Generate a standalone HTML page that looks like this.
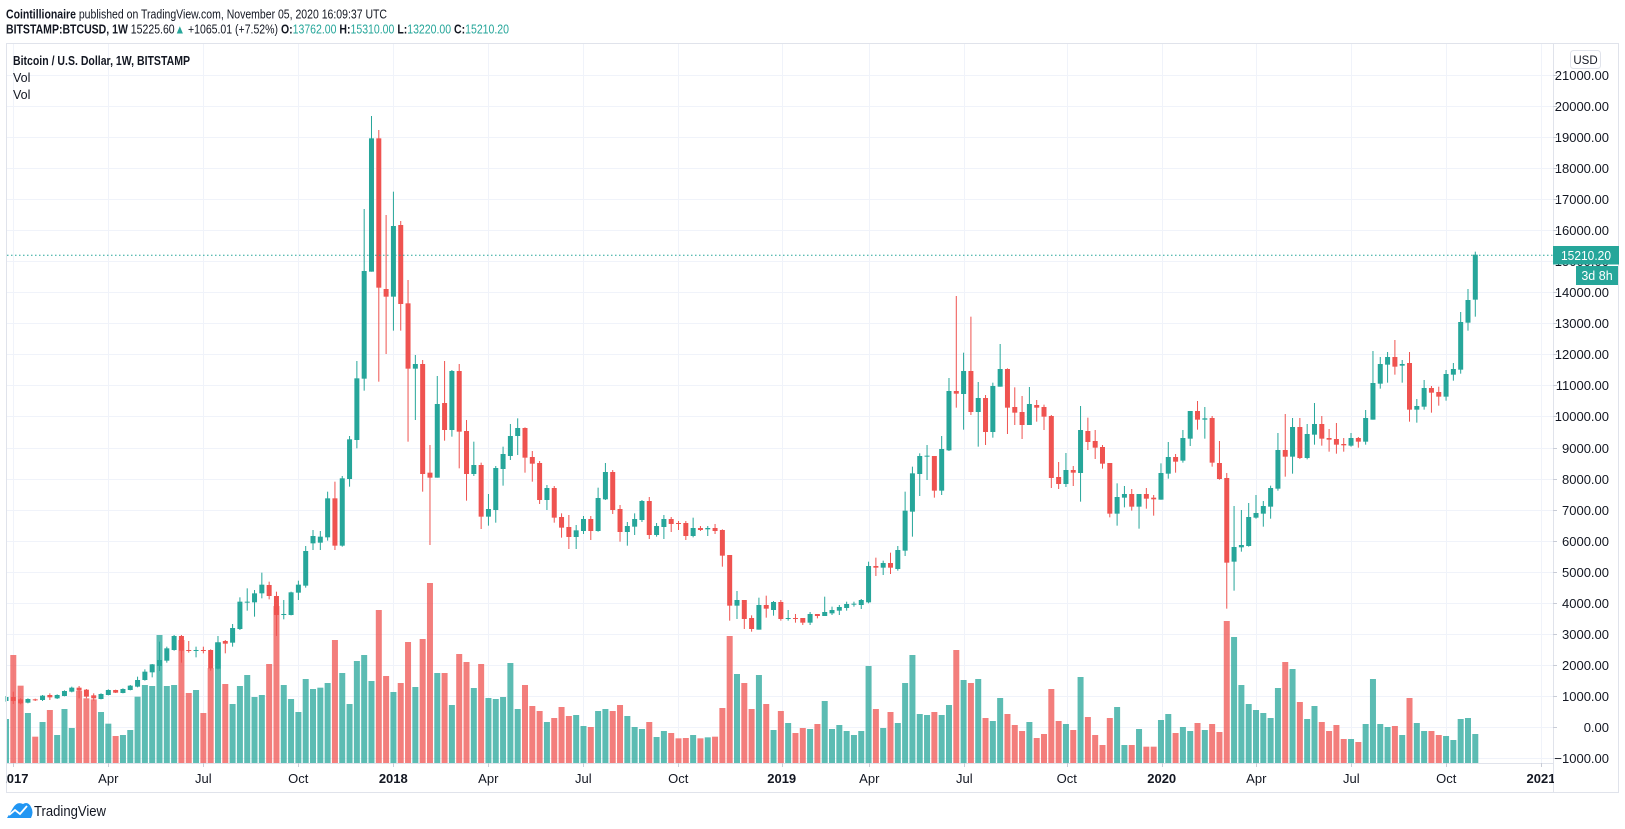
<!DOCTYPE html>
<html><head><meta charset="utf-8"><style>
html,body{margin:0;padding:0;background:#fff;}
svg{display:block;font-family:"Liberation Sans",sans-serif;}
</style></head><body>
<svg id="s" width="1625" height="829" viewBox="0 0 1625 829" xmlns="http://www.w3.org/2000/svg">
<rect width="1625" height="829" fill="#fff"/>
<g id="grid" stroke="#f0f3fa" stroke-width="1"></g>
<g id="vol"></g>
<g id="cdl"></g>
<line x1="7" y1="255.3" x2="1553" y2="255.3" stroke="#26a69a" stroke-width="1" stroke-dasharray="1.5,2.5"/>
<!-- frame -->
<g fill="none" stroke="#e0e3eb" stroke-width="1">
<rect x="6.5" y="43.5" width="1612" height="749"/>
<line x1="1553.5" y1="43.5" x2="1553.5" y2="792.5"/>
<line x1="6.5" y1="763.5" x2="1553.5" y2="763.5"/>
</g>
<g id="ticks" stroke="#c8ccd6" stroke-width="1"></g>
<!-- header -->
<text x="6" y="18.5" font-size="12.5" fill="#131722" textLength="381" lengthAdjust="spacingAndGlyphs"><tspan font-weight="bold">Cointillionaire</tspan> published on TradingView.com, November 05, 2020 16:09:37 UTC</text>
<text x="6" y="33.5" font-size="12.5" fill="#131722" textLength="503" lengthAdjust="spacingAndGlyphs"><tspan font-weight="bold">BITSTAMP:BTCUSD, 1W</tspan>  15225.60<tspan fill="#26a69a">▲</tspan> +1065.01 (+7.52%) <tspan font-weight="bold">O:</tspan><tspan fill="#26a69a">13762.00</tspan> <tspan font-weight="bold">H:</tspan><tspan fill="#26a69a">15310.00</tspan> <tspan font-weight="bold">L:</tspan><tspan fill="#26a69a">13220.00</tspan> <tspan font-weight="bold">C:</tspan><tspan fill="#26a69a">15210.20</tspan></text>
<text x="13" y="65" font-size="12.5" font-weight="bold" fill="#131722" textLength="177" lengthAdjust="spacingAndGlyphs">Bitcoin / U.S. Dollar, 1W, BITSTAMP</text>
<text x="13" y="82" font-size="12.5" fill="#131722">Vol</text>
<text x="13" y="99" font-size="12.5" fill="#131722">Vol</text>
<!-- price axis -->
<rect x="1570.5" y="50.5" width="30" height="18" rx="3" fill="#fff" stroke="#e0e3eb"/>
<text x="1585.5" y="64" font-size="11.5" fill="#131722" text-anchor="middle">USD</text>
<g id="plab" font-size="13" fill="#131722"></g>
<rect x="1553" y="246" width="66" height="18.5" fill="#26a69a"/>
<text x="1586" y="260" font-size="13" fill="#fff" text-anchor="middle" textLength="50" lengthAdjust="spacingAndGlyphs">15210.20</text>
<rect x="1576" y="266" width="42" height="19" fill="#26a69a"/>
<text x="1597" y="280" font-size="12.5" fill="#fff" text-anchor="middle">3d 8h</text>
<!-- time axis -->
<g font-size="13" fill="#131722" text-anchor="middle">
<text x="14" y="783" font-weight="bold">2017</text>
<text x="108.3" y="783">Apr</text><text x="203.3" y="783">Jul</text><text x="298.3" y="783">Oct</text>
<text x="393.3" y="783" font-weight="bold">2018</text>
<text x="488.3" y="783">Apr</text><text x="583.3" y="783">Jul</text><text x="678.3" y="783">Oct</text>
<text x="781.7" y="783" font-weight="bold">2019</text>
<text x="869.3" y="783">Apr</text><text x="964.3" y="783">Jul</text><text x="1066.7" y="783">Oct</text>
<text x="1161.7" y="783" font-weight="bold">2020</text>
<text x="1256.3" y="783">Apr</text><text x="1351.3" y="783">Jul</text><text x="1446.3" y="783">Oct</text>
<text x="1541" y="783" font-weight="bold">2021</text>
</g>
<rect x="0" y="764" width="6" height="28" fill="#fff"/>
<rect x="1554" y="764" width="64" height="28" fill="#fff"/>
<!-- logo -->
<path d="M7 818 L13 808 Q17 801 23 804 Q28 801 31 807 Q34 812 31 818 Z" fill="#2196f3"/>
<path d="M9 815 L15 810 L20 814 L27 806" fill="none" stroke="#fff" stroke-width="1.8"/>
<text x="34" y="816" font-size="14.5" fill="#131722" textLength="72" lengthAdjust="spacingAndGlyphs">TradingView</text>
</svg>
<script>
(function(){
var NS="http://www.w3.org/2000/svg";
function el(p,t,a){var e=document.createElementNS(NS,t);for(var k in a)e.setAttribute(k,a[k]);p.appendChild(e);return e;}
var grid=document.getElementById('grid'),vol=document.getElementById('vol'),cdl=document.getElementById('cdl'),plab=document.getElementById('plab'),ticks=document.getElementById('ticks');
function py(p){return 726.8-p*0.03103;}
for(var p=21000;p>=-1000;p-=1000){var y=Math.round(py(p))+0.5;
 el(grid,'line',{x1:7,x2:1553,y1:y,y2:y});
 el(ticks,'line',{x1:1553,x2:1557,y1:y,y2:y});
 var t=el(plab,'text',{x:1609,y:y+4.5,'text-anchor':'end'});t.textContent=(p<0?'\u2212':'')+Math.abs(p)+'.00';}
[13.3,108.3,203.3,298.3,393.3,488.3,583.3,678.3,781.7,869.3,964.3,1066.7,1161.7,1256.3,1351.3,1446.3,1541].forEach(function(x){x=Math.round(x)+0.5;
 el(grid,'line',{x1:x,x2:x,y1:44,y2:763});el(ticks,'line',{x1:x,x2:x,y1:763,y2:767});});
function X(i){return 13.3+7.31*i;}
var C={};
function seg(off,start,arr){arr.forEach(function(d,k){C[start+k]=d.map(function(v){return off+v/3;});});}
seg(540,-1,[[483,468,485,471],[471,455,492,483],[478,475,493,490],[488,475,490,477],[478,476,483,481],[480,465,483,467],[465,460,480,472],[475,463,477,465],[468,451,469,453],[455,440,457,443],[443,438,475,452],[449,447,475,470],[466,460,482,475],[477,460,478,462],[465,448,466,450],[450,449,459,458],[459,445,460,447],[450,435,451,437],[440,410,442,420],[420,388,422,395],[397,372,412,373],[378,305,393,360],[362,320,368,325],[330,285,332,288],[288,285,368,332],[330,303,338,333],[332,320,352,330],[330,320,340,333],[330,328,392,385],[386,288,388,307],[303,300,340,311],[308,252,320,264],[267,172,270,185],[188,145,212,185],[187,150,230,160],[160,98,175,134],[135,125,178,168],[168,155,288,225],[225,180,238,222],[225,155,226,157],[158,122,180,134],[137,18,143,33]]);
seg(100,41,[[1330,1290,1350,1308],[1328,1293,1350,1310],[1312,1175,1322,1195],[1195,1145,1350,1337],[1337,1128,1340,1135],[1137,1008,1160,1018],[1020,783,1045,835],[836,327,872,513],[515,48,515,115],[115,90,845,563],[567,345,762,590],[590,275,692,378],[375,363,692,612],[610,540,1025,806],[806,765,960,792],[792,780,1175,1122],[1118,1035,1335,1133],[1133,828,1133,912],[909,783,1022,990],[990,810,1010,813],[813,792,1105,995],[993,960,1202,1122],[1122,1025,1128,1095],[1095,1088,1287,1250],[1250,1182,1277,1227],[1230,1098,1268,1104],[1107,1040,1157,1062],[1068,972,1080,1008],[1008,955,1065,984],[984,982,1118,1073]]);
seg(380,71,[[231,213,305,251],[249,243,372,360],[360,315,390,324],[324,318,428,413],[411,400,473,443],[441,405,507,471],[471,435,507,451],[453,408,462,417],[417,408,480,453],[453,323,455,354],[358,249,360,276],[276,270,402,390],[387,375,485,456],[456,426,497,438],[440,400,465,417],[420,360,426,363],[363,351,477,465],[465,429,470,438],[441,405,477,417],[417,411,456,432],[429,423,450,431],[429,423,480,468],[468,413,472,444],[444,438,453,450],[448,438,468,444],[444,432,462,453]]);
seg(300,97,[[690,688,800,767],[765,765,962,917],[917,873,957,900],[900,900,987,957],[954,946,995,987],[989,893,989,915],[915,887,953,926],[930,903,947,906],[906,900,962,957],[956,930,962,954],[954,942,968,956],[954,954,975,968],[968,936,975,942],[942,942,955,948],[948,890,948,936],[940,920,945,930],[932,915,945,921],[924,905,932,912],[913,905,920,911],[915,897,927,900],[907,785,910,798],[798,773,828,803],[803,782,825,789],[789,758,822,803],[807,738,812,750],[752,575,768,632],[635,500,710,520],[522,460,588,468],[469,435,540,467],[468,468,593,572],[572,408,585,447],[451,234,453,273],[273,-12,323,281],[282,158,389,213],[213,50,345,336],[336,246,440,294],[294,285,435,396],[396,248,413,258],[260,132,260,207],[207,205,402,323],[321,262,375,338],[336,288,417,375],[375,261,375,312],[315,300,365,323],[321,314,390,350],[348,345,564,534],[531,486,567,552],[552,459,561,510],[510,498,558,518],[519,318,605,390],[393,353,450,426],[423,390,477,443]]);
seg(230,149,[[651,645,716,701],[699,699,862,851],[851,760,887,801],[803,768,832,792],[792,777,842,830],[830,792,896,792],[792,774,836,806],[803,795,857,808],[809,700,809,729],[731,636,746,681],[681,672,728,695],[692,600,698,624],[626,543,648,543],[543,513,599,569],[569,531,626,565],[564,558,710,698],[699,633,749,747],[744,729,1136,998],[995,828,1082,951],[952,840,965,945],[948,819,950,861],[863,795,866,849],[851,813,890,828],[830,767,866,774],[776,609,782,660],[660,552,740,680],[680,564,731,591],[591,564,687,684],[684,582,688,612],[614,519,644,582],[582,558,647,626],[624,597,665,629],[627,579,671,644],[642,624,665,646],[647,609,650,624],[624,621,653,635],[635,540,644,564],[569,363,569,459],[461,381,476,402],[404,366,458,381],[381,330,434,410],[407,390,458,402],[399,366,575,539],[539,507,578,528],[530,450,539,474],[474,468,548,488],[486,470,527,500],[500,420,512,432],[434,399,452,417],[419,246,431,276],[278,177,302,210],[209,65,260,74]]);
var V={};
function vseg(off,start,arr){arr.forEach(function(v,k){V[start+k]=off+v/3;});}
vseg(540,-1,[537,345,437,519,590,546,510,585,507,564,453,475,478,516,551,588,585,570,470,435,438,285,438,435,300,459,450,519,384,307,432,492,438,405,471,465,372,198,435,477,516,417,447,443,429,300,399,492,363]);
vseg(380,48,[825,903,690,888,936,909,786,921,777,609,879,879,975,822,846,924,852,954,957,951,849,987,915,978,993,1026,1014,981,1008,1005,1038,1041,993,987,993,975,1008,1041,1047,1026,1071,1053,1059,1075,1074,1065,1075,1072,1070]);
vseg(300,97,[1224,1008,1122,1149,1227,1125,1212,1290,1233,1269,1299,1284,1287,1272,1203,1287,1275,1293,1305,1293,1098,1227,1284,1236,1269,1149,1065,1242,1245,1236,1245,1215,1050,1140,1149,1137,1254,1263,1194,1242,1275,1293,1266,1314,1302,1167,1263,1272,1290,1131,1251,1305]);
vseg(230,149,[1545,1464,1431,1545,1545,1497,1550,1550,1470,1452,1509,1491,1503,1479,1500,1482,1506,1173,1221,1365,1422,1440,1449,1464,1374,1296,1317,1416,1467,1428,1476,1503,1485,1527,1527,1536,1482,1347,1482,1491,1488,1515,1404,1479,1503,1503,1515,1518,1530,1467,1464,1512]);
for(var i=-1;i<=200;i++){
 var d=C[i];if(!d)continue;var x=X(i);
 var up=d[3]<=d[0];var col=up?'#26a69a':'#ef5350';
 if(V[i]!==undefined){var vt=V[i];var x0=Math.max(7,x-3);
  el(vol,'rect',{x:x0,y:vt,width:(x+3)-x0,height:Math.max(0.5,763-vt),fill:col,'fill-opacity':0.75});}
 var top=Math.min(d[0],d[3]),bot=Math.max(d[0],d[3]);
 var hi=Math.max(44,d[1]);
 el(cdl,'rect',{x:x-0.5,y:hi,width:1,height:Math.max(1,d[2]-hi),fill:col});
 var bx=Math.max(7,x-2.5);
 el(cdl,'rect',{x:bx,y:top,width:(x+2.5)-bx,height:Math.max(1,bot-top),fill:col});
}
})();
</script>
</body></html>
